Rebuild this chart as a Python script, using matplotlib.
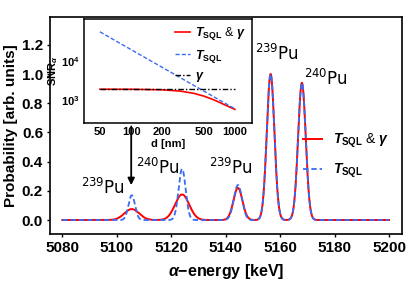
import numpy as np
import matplotlib.pyplot as plt
from matplotlib.ticker import FixedLocator, NullLocator

plt.rcParams['font.family'] = 'Liberation Sans'
plt.rcParams['mathtext.fontset'] = 'custom'
plt.rcParams['mathtext.rm'] = 'Liberation Sans:bold'
plt.rcParams['mathtext.bf'] = 'Liberation Sans:bold'
plt.rcParams['mathtext.it'] = 'Liberation Sans:bold:italic'

# peaks
peak_centers = [5105.5, 5124.0, 5144.5, 5156.5, 5168.0]
heights_sql = [0.17, 0.35, 0.24, 1.00, 0.94]
heights_gamma = [0.075, 0.175, 0.22, 1.00, 0.94]
sigma_sql = [1.2, 1.3, 1.5, 1.4, 1.4]
sigma_gamma = [2.7, 2.6, 1.65, 1.4, 1.4]
peak_labels = [r'$^{239}$Pu', r'$^{240}$Pu', r'$^{239}$Pu', r'$^{239}$Pu', r'$^{240}$Pu']
label_pos = [(5095, 0.15), (5115, 0.29), (5142, 0.29), (5159, 1.07), (5177, 0.90)]

# inset data
d_sql = [50, 1000]
snr_sql = [59600, 585]
d_gamma = [50, 100, 200, 300, 400, 500, 600, 700, 800, 1000]
snr_gamma = [1897, 1891, 1832, 1690, 1483, 1259, 1051, 878, 741, 565]
d_g = [50, 1000]
snr_g = [1900, 1900]

E = np.linspace(5080, 5200, 2400)
spec_sql = np.zeros_like(E)
spec_gamma = np.zeros_like(E)
for c, h1, s1, h2, s2 in zip(peak_centers, heights_sql, sigma_sql, heights_gamma, sigma_gamma):
    spec_sql += h1 * np.exp(-0.5 * ((E - c) / s1) ** 2)
    spec_gamma += h2 * np.exp(-0.5 * ((E - c) / s2) ** 2)

fig = plt.figure(figsize=(4.07, 2.9), dpi=100)
ax = fig.add_axes([0.123, 0.193, 0.865, 0.748])
ax.plot(E, spec_gamma, color='red', lw=1.4, label=r'$T_{\rm SQL}$ & $\gamma$')
ax.plot(E, spec_sql, color='#3b6cf0', lw=1.3, ls=(0, (3, 1.6)), label=r'$T_{\rm SQL}$')
ax.set_xlim(5075.5, 5204.8)
ax.set_ylim(-0.096, 1.39)
ax.set_xticks(np.arange(5080, 5201, 20))
ax.set_yticks(np.arange(0, 1.21, 0.2))
ax.tick_params(labelsize=11, length=2.5, width=1, pad=2.5)
for t in ax.get_xticklabels() + ax.get_yticklabels():
    t.set_fontweight('bold')
for s in ax.spines.values():
    s.set_linewidth(1.2)
ax.set_ylabel('Probability [arb. units]', fontsize=11, fontweight='bold', labelpad=3)
ax.set_xlabel(r'$\alpha$$-$energy [keV]', fontsize=11.5, fontweight='bold', labelpad=5)

for lab, (x, y) in zip(peak_labels, label_pos):
    ax.text(x, y, lab, fontsize=12, fontweight='normal', family='DejaVu Sans',
            math_fontfamily='dejavusans', ha='center', va='bottom')

ax.legend(loc='center right', bbox_to_anchor=(1.0, 0.36), frameon=False, fontsize=10,
          handlelength=1.4, labelspacing=0.8)

ax.annotate('', xy=(5105.3, 0.22), xytext=(5105.3, 0.66),
            arrowprops=dict(arrowstyle='-|>', color='black', lw=1.3, mutation_scale=10))

# inset
ins = fig.add_axes([0.206, 0.576, 0.413, 0.359])
ins.plot(d_gamma, snr_gamma, color='red', lw=1.2, label=r'$T_{\rm SQL}$ & $\gamma$')
ins.plot(d_sql, snr_sql, color='#3b6cf0', lw=1.0, ls=(0, (3, 1.5)), label=r'$T_{\rm SQL}$')
ins.plot(d_g, snr_g, color='black', lw=1.0, ls=(0, (4, 1.5, 1, 1.5)), label=r'$\gamma$')
ins.set_xscale('log')
ins.set_yscale('log')
ins.set_xlim(35, 1460)
ins.set_ylim(250, 1.3e5)
ins.xaxis.set_major_locator(FixedLocator([50, 100, 200, 500, 1000]))
ins.xaxis.set_major_formatter(plt.FuncFormatter(lambda v, p: '%d' % v))
ins.xaxis.set_minor_locator(NullLocator())
ins.yaxis.set_major_locator(FixedLocator([1e3, 1e4]))
ins.yaxis.set_minor_locator(NullLocator())
ins.tick_params(labelsize=8, length=0, pad=3)
for t in ins.get_xticklabels() + ins.get_yticklabels():
    t.set_fontweight('bold')
for s in ins.spines.values():
    s.set_linewidth(1.1)
ins.set_xlabel('d [nm]', fontsize=8, fontweight='bold', labelpad=1)
ins.set_ylabel(r'SNR$_\alpha$', fontsize=8, fontweight='bold', labelpad=1)
ins.legend(loc='upper right', bbox_to_anchor=(1.0, 1.0), borderaxespad=0.1, frameon=False,
           fontsize=9, handlelength=1.2, handletextpad=0.4, labelspacing=0.45)

fig.savefig('out.png', dpi=100)
